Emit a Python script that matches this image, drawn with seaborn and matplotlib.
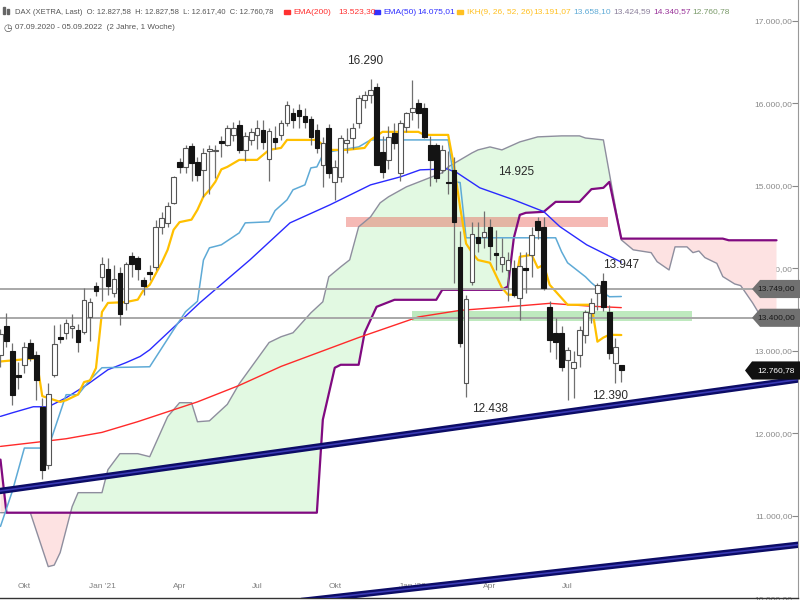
import numpy as np
import pandas as pd
import seaborn as sns
import matplotlib.pyplot as plt
from matplotlib.patches import Polygon, Rectangle
from matplotlib.transforms import blended_transform_factory

# weekly DAX candles, 07.09.2020 - 05.09.2022 (week index 0..104)
opens = [12950, 13300, 13000, 12700, 12830, 13100, 12950, 12320, 11620, 12710,
         13170, 13218, 13280, 13255, 13230, 13410, 13780, 13890, 13994, 13703,
         13945, 13580, 14150, 14127, 13860, 13960, 14020, 14503, 14551, 14794,
         15290, 15230, 15485, 15290, 15194, 15424, 15420, 15545, 15497, 15618,
         15740, 15436, 15557, 15620, 15680, 15320, 15580, 15618, 15764, 15885,
         15921, 15848, 15812, 15679, 15254, 15700, 15048, 15109, 15521, 15582,
         15764, 16042, 16103, 16200, 15412, 15315, 15642, 15157, 15715, 15900,
         16006, 15945, 15497, 15497, 15194, 15048, 15194, 14260, 12612, 13830,
         14380, 14382, 14503, 14180, 14054, 13982, 14006, 13642, 14000, 14163,
         14575, 14500, 13533, 13218, 13218, 12890, 12794, 12952, 13194, 13460,
         13703, 13848, 13473, 12855, 12827.58]
highs = [13260, 13460, 13100, 12860, 13110, 13140, 13000, 12430, 12610, 13315,
         13320, 13380, 13440, 13330, 13760, 13640, 13830, 14140, 14130, 14040,
         14010, 14080, 14200, 14150, 13897, 14040, 14590, 14680, 14800, 15120,
         15340, 15500, 15520, 15350, 15460, 15500, 15500, 15600, 15740, 15780,
         15800, 15650, 15700, 15800, 15800, 15700, 15720, 15800, 16030, 15950,
         15990, 15950, 15850, 15750, 15590, 15750, 15315, 15620, 15700, 15760,
         16100, 16150, 16290, 16250, 15600, 15720, 15760, 15800, 15900, 16285,
         16050, 16000, 15600, 15520, 15500, 15420, 15350, 14450, 13680, 14560,
         14560, 14700, 14600, 14470, 14370, 14200, 14100, 14200, 14200, 14500,
         14620, 14620, 13600, 13400, 13300, 13050, 13000, 13300, 13500, 13640,
         13820, 13947, 13560, 13150, 12827.58]
lows = [12800, 13050, 12340, 12540, 12730, 12870, 12400, 11450, 11560, 12680,
        13100, 13140, 13160, 12980, 13200, 13120, 13660, 13600, 13680, 13650,
        13310, 13500, 13900, 13860, 13680, 13860, 13980, 14420, 14500, 14780,
        15150, 15150, 15060, 15060, 14870, 14900, 15100, 15350, 15480, 15550,
        15400, 15300, 15500, 15450, 15450, 15060, 15450, 15560, 15720, 15700,
        15700, 15700, 15500, 15400, 14985, 15100, 14830, 15050, 15400, 15450,
        15700, 15950, 16000, 15250, 15100, 15200, 15450, 15060, 15650, 15800,
        15700, 15580, 15000, 15050, 15150, 14900, 13820, 13050, 12440, 13800,
        14200, 14250, 14100, 13980, 13950, 13600, 13650, 13376, 13700, 13900,
        14350, 13740, 12980, 12900, 12750, 12406, 12430, 12800, 13100, 13340,
        13500, 13480, 12900, 12612, 12617.40]
closes = [13203, 13116, 12469, 12680, 13050, 12910, 12646, 11556, 12480, 13077,
          13140, 13340, 13300, 13110, 13618, 13587, 13719, 14050, 13788, 13873,
          13440, 14056, 14050, 13994, 13786, 13930, 14502, 14612, 14758, 15109,
          15234, 15460, 15280, 15136, 15400, 15448, 15437, 15521, 15703, 15703,
          15436, 15606, 15655, 15700, 15533, 15669, 15533, 15764, 15980, 15800,
          15848, 15776, 15594, 15460, 15521, 15157, 15230, 15580, 15557, 15703,
          16067, 16103, 16164, 15254, 15170, 15594, 15521, 15764, 15885, 15950,
          15885, 15594, 15315, 15097, 15436, 15036, 14564, 13097, 13630, 14413,
          14309, 14442, 14272, 14163, 14139, 14103, 13679, 14030, 13982, 14400,
          14467, 13764, 13133, 13109, 12806, 13012, 12867, 13254, 13473, 13574,
          13800, 13533, 12976, 13048, 12760.78]

tick_weeks = [4, 17, 30, 43, 56, 69, 82, 95]
tick_labels = ['Okt', "Jan '21", 'Apr', 'Jul', 'Okt', "Jan '22", 'Apr', 'Jul']

# indicator lines (week index, value)
ema200_wk = [0, 6, 11, 17, 23, 33, 40, 47, 60, 70, 77, 87, 92, 99, 104]
ema200_val = [11840, 11890, 11933, 12010, 12140, 12380, 12580, 12810, 13160,
              13410, 13490, 13545, 13575, 13540, 13523]

ema50_wk = [0, 2, 5.5, 8, 11, 14.5, 18, 21, 23.4, 25, 33.4, 41.8, 48.5, 55.2,
            62, 67, 70.3, 74.8, 76.5, 80.3, 86, 91, 93.7, 98.2, 104]
ema50_val = [12204, 12248, 12321, 12320, 12430, 12588, 12770, 12855, 12931,
             13012, 13582, 14103, 14551, 14770, 15012, 15109, 15194, 15206,
             15158, 14976, 14830, 14688, 14506, 14285, 14075]

tenkan_wk = [0, 6, 7, 10, 11, 13, 14, 15, 16, 17, 18, 21, 23, 24, 25, 27, 28,
             29, 30, 32, 33, 34, 35, 36, 37, 38, 40, 43, 45, 47, 48, 53, 55,
             58, 61, 62, 64, 70, 71, 75, 76, 77, 78, 79, 80, 82, 84, 85, 86,
             87, 89, 90, 91, 92, 95, 99, 100, 101, 102, 104]
tenkan_val = [12870, 12910, 12450, 12380, 12400, 12470, 12620, 12640, 12790,
              13470, 13580, 13590, 13620, 13740, 13800, 14067, 14224, 14467,
              14560, 14590, 14710, 14870, 14950, 15050, 15200, 15230, 15315,
              15315, 15436, 15460, 15557, 15557, 15436, 15436, 15460, 15557,
              15655, 15655, 15618, 15618, 15230, 14740, 14300, 14190, 14100,
              14067, 13764, 13680, 13680, 14140, 14163, 14006, 14042, 13800,
              13558, 13558, 13110, 13160, 13194, 13191]

kijun_wk = [0, 2, 4, 8, 11, 13, 15, 17, 25, 29, 31, 33, 34, 35, 37, 40, 41, 45,
            46, 48, 49, 51, 52, 53, 54, 55, 57, 60, 62, 75, 76, 77, 78, 93, 94,
            95, 98, 99, 101, 102, 104]
kijun_val = [10870, 11300, 11820, 11820, 12467, 12467, 12648, 12794, 12806,
             13255, 13473, 13600, 14100, 14248, 14285, 14430, 14551, 14564,
             14700, 14830, 14952, 15012, 15218, 15230, 15376, 15412, 15436,
             15472, 15557, 15557, 15050, 15040, 14370, 14370, 14200, 14067,
             13897, 13824, 13703, 13655, 13658]

# senkou span A / B, already shifted 26 weeks ahead
spanA_wk = [0, 5, 8, 9, 10, 12, 13, 17, 18, 20, 23, 25, 28, 30, 32, 33, 35,
            38, 40, 43, 45, 47, 49, 52, 54, 55, 57, 58.5, 60, 62, 63.6, 65, 68,
            71, 74, 75, 77, 79, 80, 82, 84, 87, 90, 94, 97, 98, 101, 104, 106,
            109, 110, 112, 113, 115, 116, 117, 118, 120, 121, 123, 124, 126,
            127, 128, 130]
spanA_val = [11036, 11036, 10382, 10400, 10552, 11109, 11279, 11279, 11558,
             11752, 11752, 11715, 12200, 12370, 12370, 12139, 12150, 12350,
             12600, 12900, 13100, 13170, 13218, 13460, 13594, 13897, 14018,
             14103, 14503, 14624, 14794, 14867, 14988, 15073, 15158, 15230,
             15315, 15400, 15436, 15472, 15436, 15533, 15594, 15606, 15606,
             15580, 15557, 14345, 14224, 14190, 14080, 13980, 14260, 14260,
             14190, 14210, 14130, 14060, 13900, 13810, 13790, 13580, 13460,
             13400, 13424]
spanB_wk = [0, 1, 53, 54, 56, 57, 60, 61, 63, 66, 73, 74, 84, 85, 86, 87, 88,
            91, 93, 97, 99, 101, 102, 104, 121, 122, 130]
spanB_val = [11680, 11036, 11036, 12164, 12794, 12830, 12830, 13218, 13533,
             13618, 13618, 13739, 13739, 13780, 14370, 14648, 14673, 14685,
             14806, 14806, 14960, 14976, 15048, 14360, 14360, 14340, 14340]

levels = [13749, 13400]
trend1_wk, trend1_val = [-1, 134], [11290, 12655]
trend2_wk, trend2_val = [40, 134], [9880, 10650]
red_zone = [57.9, 101.8, 14500, 14620]
green_zone = [68.9, 115.8, 13360, 13485]
notes = [(61.1, 16515, '16.290'), (86.3, 15170, '14.925'), (104.0, 14040, '13.947'),
         (82.0, 12290, '12.438'), (102.1, 12455, '12.390')]


def de(v):
    return f'{v:,.2f}'.replace(',', '#').replace('.', ',').replace('#', '.')


sns.set_theme(style='white')
plt.rcParams['font.family'] = ['Liberation Sans', 'DejaVu Sans']

fig = plt.figure(figsize=(8, 6), dpi=100)
ax = fig.add_axes([0, 0.003, 0.9975, 0.997])
ax.set_xlim(-0.08, 133.6)
ax.set_ylim(9999, 17254)

df = pd.DataFrame({'wk': np.arange(len(closes)), 'o': opens, 'h': highs,
                   'l': lows, 'c': closes})

# ichimoku cloud
grid = np.union1d(spanA_wk, spanB_wk)
a = np.interp(grid, spanA_wk, spanA_val)
b = np.interp(grid, spanB_wk, spanB_val)
ax.fill_between(grid, a, b, where=a >= b, interpolate=True, color='#e2f9e2', lw=0, zorder=1)
ax.fill_between(grid, a, b, where=a <= b, interpolate=True, color='#fde2e2', lw=0, zorder=1)

# marked zones
ax.fill_between(red_zone[:2], red_zone[2], red_zone[3], color='#e65046', alpha=0.4, lw=0, zorder=2)
ax.fill_between(green_zone[:2], green_zone[2], green_zone[3], color='#3cbe3c', alpha=0.33, lw=0, zorder=2)

# indicator lines
sns.lineplot(x=spanA_wk, y=spanA_val, ax=ax, color='#8e8e9e', lw=1.0, zorder=3)
sns.lineplot(x=spanB_wk, y=spanB_val, ax=ax, color='#800a80', lw=1.6, zorder=3)
sns.lineplot(x=ema200_wk, y=ema200_val, ax=ax, color='#ff2a2a', lw=1.0, zorder=3)
sns.lineplot(x=ema50_wk, y=ema50_val, ax=ax, color='#2a2aff', lw=1.0, zorder=3)
sns.lineplot(x=kijun_wk, y=kijun_val, ax=ax, color='#5eaad6', lw=1.1, zorder=3)
sns.lineplot(x=tenkan_wk, y=tenkan_val, ax=ax, color='#ffc000', lw=1.6, zorder=3)

for lv in levels:
    ax.axhline(lv, color='#a8a8a8', lw=1.4, zorder=3.5)

# candles
up = df.c >= df.o
lo = np.minimum(df.o, df.c)
hgt = np.maximum((df.c - df.o).abs(), 14)
ax.vlines(df.wk, df.l, df.h, color='#707070', lw=0.9, zorder=4)
ax.bar(df.wk[up], hgt[up], bottom=lo[up], width=0.78, color='white',
       edgecolor='#555555', lw=0.8, zorder=5)
ax.bar(df.wk[~up], hgt[~up], bottom=lo[~up], width=0.78, color='#141414',
       edgecolor='#141414', lw=0.8, zorder=5)

# trend lines
for xs, ys in [(trend1_wk, trend1_val), (trend2_wk, trend2_val)]:
    ax.plot(xs, ys, color='#0c0c66', lw=4.6, zorder=7, solid_capstyle='butt')
    ax.plot(xs, ys, color='#3a3ab4', lw=1.2, zorder=7.5)

for x, y, t in notes:
    ax.text(x, y, t, ha='center', va='center', fontsize=8.5, color='#2a2a2a', zorder=9)

# axes styling
ax.set_xticks(tick_weeks)
ax.set_xticklabels(tick_labels)
ax.tick_params(axis='x', direction='in', length=4, width=0.8, color='#777777',
               pad=-11, labelsize=6, labelcolor='#808080')
ax.yaxis.tick_right()
yt = list(range(10000, 17001, 1000))
ax.set_yticks(yt)
ax.set_yticklabels([de(v) for v in yt])
ax.tick_params(axis='y', direction='in', length=4, width=0.8, color='#888888',
               pad=-4, labelsize=6, labelcolor='#8a8a8a')
plt.setp(ax.get_yticklabels(), ha='right')
ax.grid(False)
for s in ['top', 'left']:
    ax.spines[s].set_visible(False)
ax.spines['right'].set_color('#999999')
ax.spines['right'].set_linewidth(0.8)
ax.spines['bottom'].set_color('#333333')
ax.spines['bottom'].set_linewidth(1.0)

# price tags on the right
trans = blended_transform_factory(ax.transAxes, ax.transData)


def tag(price, text, face, fg, x_body, x_tip):
    hh = 110
    pts = [(x_tip, price), (x_body, price + hh), (1.01, price + hh),
           (1.01, price - hh), (x_body, price - hh)]
    ax.add_patch(Polygon(pts, closed=True, transform=trans, facecolor=face,
                         edgecolor='none', zorder=10, clip_on=False))
    ax.text(0.996, price, text, transform=trans, ha='right', va='center',
            color=fg, fontsize=6, zorder=11, clip_on=False)


tag(13749, '13.749,00', '#707070', '#1a1a1a', 0.9524, 0.9424)
tag(13400, '13.400,00', '#707070', '#1a1a1a', 0.9524, 0.9424)
tag(closes[-1], de(closes[-1]), '#111111', 'white', 0.9424, 0.9336)

# header, pieces placed where the reference shows them
hy1, hy2 = 1 - 12 / 600, 1 - 27.5 / 600
fig.text(15 / 800, hy1,
         'DAX (XETRA, Last)  O: 12.827,58  H: 12.827,58  L: 12.617,40  C: 12.760,78',
         ha='left', va='center', fontsize=5.5, color='#555555')
head = [(293, 'EMA(200)', '#ff3030'),
        (338, '13.523,30', '#ff3030'),
        (383, 'EMA(50)', '#3030ff'),
        (417, '14.075,01', '#3030ff'),
        (467, 'IKH(9, 26, 52, 26)', '#ffc020'),
        (533, '13.191,07', '#ffc020'),
        (573, '13.658,10', '#5eaad6'),
        (613, '13.424,59', '#8a7f9a'),
        (653, '14.340,57', '#993399'),
        (692, '12.760,78', '#7a9a6a')]
for x, t, c in head:
    fig.text(x / 800, hy1, t, ha='left', va='center', fontsize=6, color=c)
for x, c in [(284, '#ff3030'), (374, '#3030ff'), (457, '#ffc020')]:
    fig.patches.append(Rectangle((x / 800, hy1 - 1.5 / 600), 6 / 800, 3 / 600,
                                 transform=fig.transFigure, color=c))
fig.text(3 / 800, hy2, '\u25f7', ha='left', va='center', fontsize=7, color='#555555',
         family='DejaVu Sans')
fig.text(15 / 800, hy2, '07.09.2020 - 05.09.2022  (2 Jahre, 1 Woche)', ha='left',
         va='center', fontsize=5.8, color='#555555')
for x0, y0, h in [(3, 7, 7), (7, 9, 5)]:
    fig.patches.append(Rectangle((x0 / 800, 1 - (y0 + h) / 600), 2 / 800, h / 600,
                                 transform=fig.transFigure, color='#666666'))

fig.savefig('out.png', dpi=100)
